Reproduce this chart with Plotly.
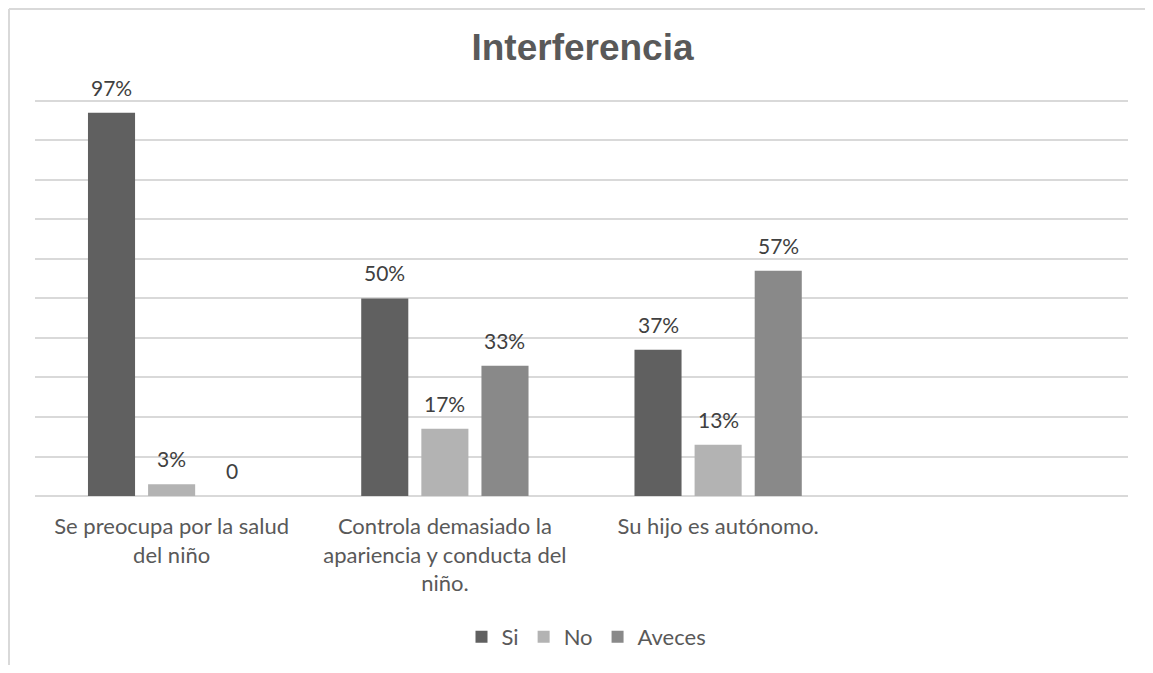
import plotly.graph_objects as go

categories = ["Se preocupa por la salud<br>del niño",
              "Controla demasiado la<br>apariencia y conducta del<br>niño.",
              "Su hijo es autónomo.",
              " "]
series_names = ["Si", "No", "Aveces"]
si_values = [0.97, 0.50, 0.37, None]
no_values = [0.03, 0.17, 0.13, None]
aveces_values = [0.0, 0.33, 0.57, None]
si_labels = ["97%", "50%", "37%"]
no_labels = ["3%", "17%", "13%"]
aveces_labels = ["0", "33%", "57%"]
colors = ["#606060", "#b3b3b3", "#898989"]

# the page has an 8px body margin, so the figure is drawn 8px in from the top-left
OFF = 8
W, H = 1153 - 2 * OFF, 673 - 2 * OFF
YMAX = 1.01
plot_left, plot_right = 35 - OFF, 1128 - OFF
base_y = 496 - OFF
unit = 395.0  # pixels for 100%
top_y = base_y - unit * YMAX
L, R, T, B = plot_left, W - plot_right, top_y, H - base_y
BARGAP = 0.34
BARGROUPGAP = 0.217

TXT = "#595959"
LBL = "#404040"
FONT = "Lato, Carlito, Calibri, sans-serif"

fig = go.Figure()
all_vals = [si_values, no_values, aveces_values]
all_lbls = [si_labels, no_labels, aveces_labels]
for name, vals, col in zip(series_names, all_vals, colors):
    fig.add_trace(go.Bar(name=name, x=list(range(len(categories))), y=vals,
                         marker=dict(color=col, line=dict(width=0))))

slot = (1 - BARGAP) / 3
annotations = []
for j, (vals, lbls) in enumerate(zip(all_vals, all_lbls)):
    for i, lab in enumerate(lbls):
        annotations.append(dict(x=i + (j - 1) * slot, y=vals[i], xref="x", yref="y",
                                text=lab, showarrow=False, yanchor="bottom",
                                yshift=11, font=dict(family=FONT, size=21, color=LBL)))

# page-pixel -> paper coordinates
px = lambda p: (p - OFF - L) / (W - L - R)
py = lambda p: (H - B - (p - OFF)) / (H - T - B)
border = dict(color="#d9d9d9", width=2)
shapes = [
    dict(type="line", xref="paper", yref="paper", x0=px(9), x1=px(9),
         y0=py(OFF + H), y1=py(9), line=border, layer="below"),
    dict(type="line", xref="paper", yref="paper", x0=px(9), x1=px(OFF + W),
         y0=py(9), y1=py(9), line=border, layer="below"),
]

fig.update_layout(
    width=W, height=H,
    margin=dict(l=L, r=R, t=T, b=B, pad=0, autoexpand=False),
    paper_bgcolor="white", plot_bgcolor="white",
    barmode="group", bargap=BARGAP, bargroupgap=BARGROUPGAP,
    title=dict(text="<b>Interferencia</b>", x=(582.5 - OFF) / W, xanchor="center",
               y=1 - (47 - OFF) / H, yanchor="middle", yref="container",
               font=dict(family="Liberation Sans, Arial, sans-serif", size=37, color=TXT)),
    xaxis=dict(tickmode="array", tickvals=list(range(len(categories))), ticktext=categories,
               range=[-0.5, len(categories) - 0.5], showgrid=False, showline=False,
               zeroline=False, ticks="", ticklabelstandoff=15, automargin=False,
               tickfont=dict(family=FONT, size=22, color=TXT)),
    yaxis=dict(range=[0, YMAX], dtick=0.1, showticklabels=False, showgrid=True,
               gridcolor="#d9d9d9", gridwidth=1.5, zeroline=True, zerolinecolor="#d9d9d9",
               zerolinewidth=1.5, showline=False, automargin=False),
    legend=dict(orientation="h", x=(586.5 - OFF) / W, xanchor="center", xref="container",
                y=1 - (637 - OFF) / H, yanchor="middle", yref="container",
                font=dict(family=FONT, size=22, color=TXT), traceorder="normal"),
    annotations=annotations,
    shapes=shapes,
    showlegend=True,
)

fig.write_html("out.html")
